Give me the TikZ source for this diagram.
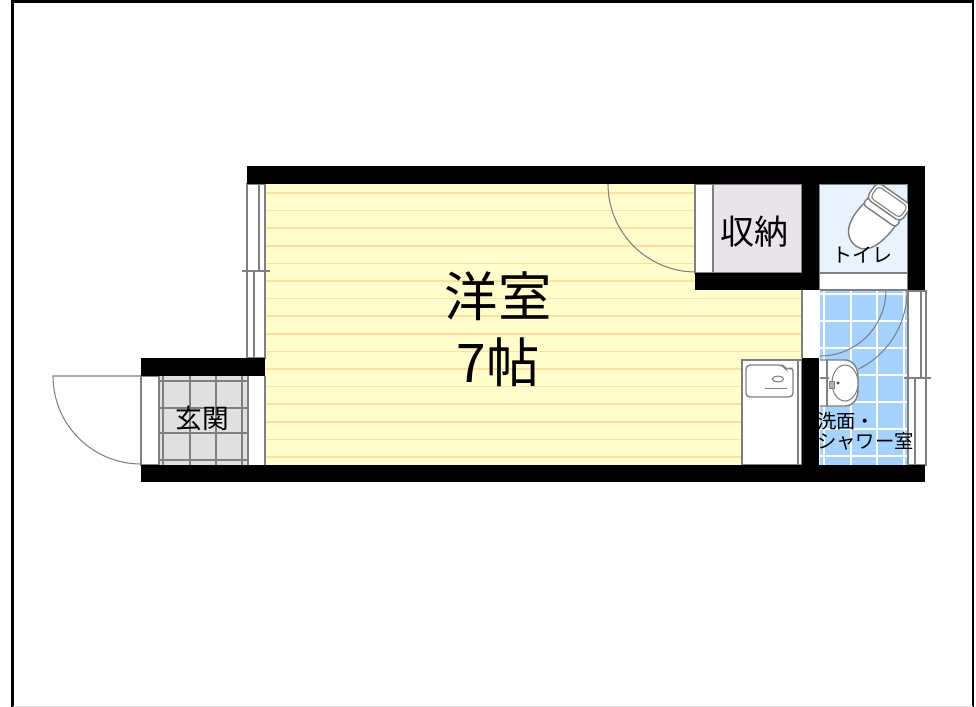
\documentclass[tikz,border=0pt]{standalone}
\usepackage{fontspec}
\newfontfamily\jp{Noto Sans CJK JP}
\definecolor{wallgray}{HTML}{808080}
\definecolor{roomyellow}{HTML}{FFFDCB}
\definecolor{floorline}{HTML}{FFE0A0}
\definecolor{closetfill}{HTML}{E8E4EA}
\definecolor{toiletfill}{HTML}{E8F3FD}
\definecolor{bathfill}{HTML}{A6D2FF}
\definecolor{tilefill}{HTML}{E0E0E0}
\tikzset{
  wall/.style={fill=black,draw=none},
  fine/.style={draw=wallgray,line width=1.05pt},
  thinfine/.style={draw=wallgray,line width=.8pt},
  fixture/.style={draw=wallgray,line width=1.1pt,fill=white},
  label/.style={font=\jp,text=black,inner sep=0pt,align=center},
}
\begin{document}
\begin{tikzpicture}[x=0.75pt,y=-0.75pt]
\useasboundingbox (0,0) rectangle (976,707);
% frame
\draw[black,line width=1.9pt] (12.5,707) -- (12.5,1.5) -- (973,1.5) -- (973,707);
\draw[black!12,line width=.7pt] (12.5,706.5) -- (973,706.5);
% main room
\fill[roomyellow] (265,184) rectangle (802,465);
\foreach \k in {0,...,15}{
  \draw[floorline,line width=1.1pt] (265,193+17.6*\k) -- (802,193+17.6*\k);
}
% closet
\draw[fine,fill=white] (695,184) rectangle (713,273);
\draw[fine,fill=closetfill] (713,184) rectangle (802,273);
% toilet room
\draw[fine,fill=toiletfill] (819,184) rectangle (908,273);
\draw[fine,fill=white] (819,273) rectangle (908,290);
% opening
\fill[white] (802,290) rectangle (820,358);
\draw[fine] (802,290) -- (802,358);
% bathroom
\fill[bathfill] (820,290) rectangle (908,465);
\foreach \gx in {824,851,877,904}{\draw[white,line width=.9pt] (\gx,290) -- (\gx,465);}
\foreach \gy in {294,321,348,375,402,429,456}{\draw[white,line width=.9pt] (820,\gy) -- (908,\gy);}
\draw[fine] (820,290) -- (908,290);
% bath doors
\draw[thinfine] (886,290) arc[start angle=0,end angle=-90,radius=49.5pt];
\draw[thinfine] (907,291) arc[start angle=0,end angle=-64,radius=65.25pt];
% right window
\draw[fine,fill=white] (908,291) rectangle (926,465);
\draw[fine] (921,291) -- (921,378);
\draw[fine] (915,378) -- (915,465);
\draw[fine] (904,378) -- (931,378);
% bath sink
\draw[fixture] (820,360) -- (845,360) .. controls (853,360) and (858,368) .. (858,376)
  -- (858,390) .. controls (858,399) and (853,406) .. (845,406) -- (820,406);
\draw[fine] (827,360) -- (827,406);
\draw[thinfine,fill=white] (845,383) ellipse[x radius=9.75pt,y radius=13.5pt];
\draw[fine] (820,378) -- (829,378);
\draw[wallgray,fill=wallgray!60] (829,381) rectangle (834,388);
\fill[black!70] (838,383) circle[radius=1.2pt];
% kitchen
\draw[fixture] (742,360) rectangle (802,465);
\draw[fine] (798,360) -- (798,465);
\draw[fine,rounded corners=3pt] (746,365) -- (783,365) -- (786,370) -- (793,367) -- (793,397) -- (746,397) -- cycle;
\draw[thinfine] (778,379) ellipse[x radius=4.2pt,y radius=2.2pt];
\draw[fine] (765,388.5) -- (787,388.5);
% toilet bowl
\begin{scope}[shift={(889,202)},rotate=-35]
  \draw[fixture] (-19,12) .. controls (-24,34) and (-20,55) .. (-1,55)
     .. controls (12,55) and (19,38) .. (19,12) -- cycle;
  \draw[fixture,rounded corners=2.5pt] (-20,8) rectangle (20,17);
  \draw[fixture,rounded corners=4pt] (-21,-10) rectangle (21,10);
  \draw[thinfine,rounded corners=3pt] (-18,-7) rectangle (18,7);
\end{scope}
% entry
\draw[fine,fill=white] (141,376) rectangle (159,465);
\fill[white] (249,376) rectangle (265,465);
\fill[tilefill] (159,376) rectangle (248,465);
\foreach \gx in {159,163,190,216,242,248}{\draw[fine] (\gx,376) -- (\gx,465);}
\foreach \gy in {381,408,433,460}{\draw[fine] (159,\gy) -- (248,\gy);}
\draw[fine] (265,376) -- (265,465);
% entry door
\draw[thinfine] (141,376) -- (53,376) arc[start angle=180,end angle=270,radius=66pt];
% closet door
\draw[thinfine] (608,184) arc[start angle=180,end angle=270,radius=66pt];
% left window
\draw[fine,fill=white] (247,184) rectangle (265,358);
\draw[fine] (259,184) -- (259,271);
\draw[fine] (254,271) -- (254,358);
\draw[fine] (242,271) -- (270,271);
% walls
\fill[wall] (247,166) rectangle (925,184);
\fill[wall] (908,166) rectangle (925,290);
\fill[wall] (802,184) rectangle (819,290);
\fill[wall] (695,273) rectangle (819,290);
\fill[wall] (802,358) rectangle (819,482);
\fill[wall] (141,465) rectangle (925,482);
\fill[wall] (141,358) rectangle (265,376);
% labels
\node[label,font=\jp\fontsize{40}{40}\selectfont] (yoshitsu) at (498,296) {洋室};
\node[label,font=\jp\fontsize{40}{40}\selectfont] (jo) at (498,362) {7帖};
\node[label,font=\jp\fontsize{25.5}{25.5}\selectfont] (shuno) at (754,232) {収納};
\node[label,font=\jp\fontsize{15}{15}\selectfont] (toire) at (862,255) {トイレ};
\node[label,font=\jp\fontsize{20}{20}\selectfont] (genkan) at (202,418) {玄関};
\node[label,font=\jp\fontsize{14.5}{14.5}\selectfont,anchor=west] (senmen) at (817,421) {洗面・};
\node[label,font=\jp\fontsize{14.5}{14.5}\selectfont,anchor=west] (shower) at (817,441) {シャワー室};
\end{tikzpicture}
\end{document}
